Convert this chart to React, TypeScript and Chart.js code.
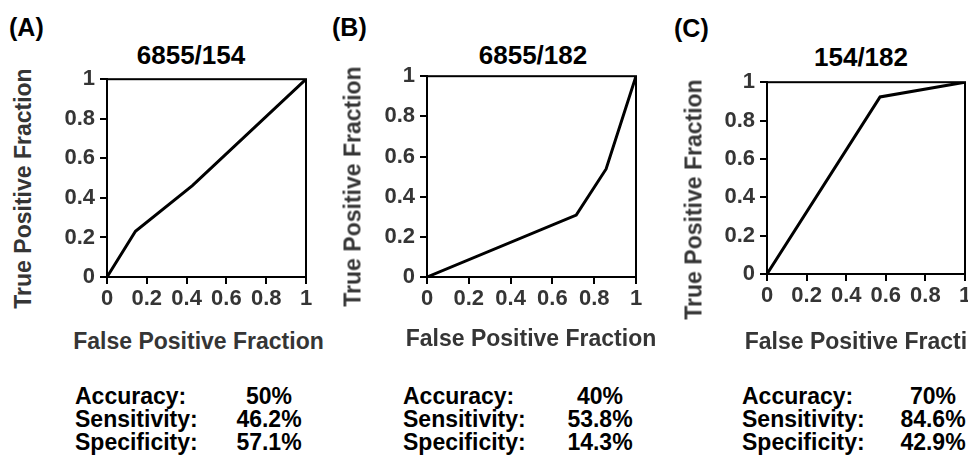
import React, { useEffect, useRef } from "react";
import { Chart, registerables } from "chart.js";

Chart.register(...registerables);

// ---------- data ----------
const panelLetters = ["(A)", "(B)", "(C)"];
const panelTitles = ["6855/154", "6855/182", "154/182"];
const xAxisTitle = "False Positive Fraction";
const yAxisTitle = "True Positive Fraction";
const tickValues = [0, 0.2, 0.4, 0.6, 0.8, 1];

const fprA = [0, 0.143, 0.429, 1];
const tprA = [0, 0.231, 0.462, 1];
const fprB = [0, 0.714, 0.857, 1];
const tprB = [0, 0.308, 0.538, 1];
const fprC = [0, 0.571, 1];
const tprC = [0, 0.923, 1];

const statLabels = ["Accuracy:", "Sensitivity:", "Specificity:"];
const statsA = ["50%", "46.2%", "57.1%"];
const statsB = ["40%", "53.8%", "14.3%"];
const statsC = ["70%", "84.6%", "42.9%"];

// ---------- layout / style ----------
const FONT = '"Liberation Sans", Arial, Helvetica, sans-serif';
const AXIS_GRAY = "#353535";
const Y_AXIS_W = 64;
const PAD_T = 14;
const PAD_R = 14;
const X_AXIS_H = 40;

type PanelLayout = {
  plot: { l: number; r: number; t: number; b: number };
  letter: { x: number; cy: number };
  title: { cx: number; cy: number };
  xTitle: { cx: number; cy: number };
  yTitle: { cx: number; cy: number };
  statsLeft: number;
  statsValCx: number;
};

const layouts: PanelLayout[] = [
  {
    plot: { l: 107, r: 306, t: 75, b: 277 },
    letter: { x: 9, cy: 27 },
    title: { cx: 191, cy: 55 },
    xTitle: { cx: 198.5, cy: 341 },
    yTitle: { cx: 23, cy: 188 },
    statsLeft: 75,
    statsValCx: 269,
  },
  {
    plot: { l: 427, r: 636, t: 72, b: 277 },
    letter: { x: 332, cy: 27 },
    title: { cx: 533, cy: 55 },
    xTitle: { cx: 531, cy: 338 },
    yTitle: { cx: 353, cy: 186 },
    statsLeft: 403,
    statsValCx: 600,
  },
  {
    plot: { l: 767, r: 965, t: 78, b: 274 },
    letter: { x: 674, cy: 28 },
    title: { cx: 861, cy: 57 },
    xTitle: { cx: 870, cy: 341 },
    yTitle: { cx: 694, cy: 199 },
    statsLeft: 742,
    statsValCx: 933,
  },
];

const statRowsCy = [396, 419.5, 442];

const boxPlugin = {
  id: "plotBox",
  beforeDatasetsDraw(chart: any) {
    const { ctx, chartArea } = chart;
    ctx.save();
    ctx.strokeStyle = "#000";
    ctx.lineWidth = 2;
    ctx.strokeRect(
      chartArea.left,
      chartArea.top,
      chartArea.right - chartArea.left,
      chartArea.bottom - chartArea.top
    );
    ctx.restore();
  },
};

function RocChart({ fpr, tpr, lay }: { fpr: number[]; tpr: number[]; lay: PanelLayout }) {
  const ref = useRef<HTMLCanvasElement | null>(null);
  const width = Y_AXIS_W + (lay.plot.r - lay.plot.l) + PAD_R;
  const height = PAD_T + (lay.plot.b - lay.plot.t) + X_AXIS_H;
  const left = lay.plot.l - Y_AXIS_W;
  const top = lay.plot.t - PAD_T;

  useEffect(() => {
    if (!ref.current) return;
    const pts = fpr.map((x, i) => ({ x, y: tpr[i] }));
    const tickFont = { family: FONT, size: 22, weight: "bold" as const };
    const commonScale = {
      type: "linear" as const,
      min: 0,
      max: 1,
      afterBuildTicks: (s: any) => {
        s.ticks = tickValues.map((v) => ({ value: v }));
      },
      grid: {
        drawOnChartArea: false,
        drawTicks: true,
        tickLength: 7,
        color: "#000",
        lineWidth: 2,
      },
      border: { display: true, color: "#000", width: 2 },
    };
    const chart = new Chart(ref.current, {
      type: "scatter",
      data: {
        datasets: [
          {
            data: pts,
            showLine: true,
            borderColor: "#000",
            backgroundColor: "#000",
            borderWidth: 3,
            pointRadius: 0,
            tension: 0,
          },
        ],
      },
      options: {
        responsive: false,
        animation: false,
        devicePixelRatio: 1,
        layout: { padding: { top: PAD_T, right: PAD_R, left: 0, bottom: 0 } },
        plugins: {
          legend: { display: false },
          title: { display: false },
          tooltip: { enabled: false },
        },
        scales: {
          x: {
            ...commonScale,
            position: "bottom",
            ticks: {
              font: tickFont,
              color: AXIS_GRAY,
              padding: 2,
              maxRotation: 0,
              autoSkip: false,
              callback: (v: any) => String(Math.round(Number(v) * 10) / 10),
            },
            afterFit: (s: any) => {
              s.height = X_AXIS_H;
            },
          },
          y: {
            ...commonScale,
            position: "left",
            ticks: {
              font: tickFont,
              color: AXIS_GRAY,
              padding: 5,
              autoSkip: false,
              callback: (v: any) => String(Math.round(Number(v) * 10) / 10),
            },
            afterFit: (s: any) => {
              s.width = Y_AXIS_W;
            },
          },
        },
      },
      plugins: [boxPlugin],
    });
    return () => chart.destroy();
  }, []);

  return (
    <canvas
      ref={ref}
      width={width}
      height={height}
      style={{ position: "absolute", left, top, width, height }}
    />
  );
}

function CText({
  text,
  cx,
  cy,
  size,
  color,
  rotate,
}: {
  text: string;
  cx: number;
  cy: number;
  size: number;
  color: string;
  rotate?: boolean;
}) {
  const w = 400;
  return (
    <div
      style={{
        position: "absolute",
        left: cx - w / 2,
        top: cy - size / 2,
        width: w,
        height: size,
        lineHeight: `${size}px`,
        fontSize: size,
        fontFamily: FONT,
        fontWeight: "bold",
        color,
        textAlign: "center",
        whiteSpace: "nowrap",
        transform: rotate ? "rotate(-90deg)" : undefined,
        transformOrigin: "center center",
      }}
    >
      {text}
    </div>
  );
}

function LText({ text, x, cy, size, color }: { text: string; x: number; cy: number; size: number; color: string }) {
  return (
    <div
      style={{
        position: "absolute",
        left: x,
        top: cy - size / 2,
        height: size,
        lineHeight: `${size}px`,
        fontSize: size,
        fontFamily: FONT,
        fontWeight: "bold",
        color,
        whiteSpace: "nowrap",
      }}
    >
      {text}
    </div>
  );
}

export default function App() {
  const series = [
    { fpr: fprA, tpr: tprA, stats: statsA },
    { fpr: fprB, tpr: tprB, stats: statsB },
    { fpr: fprC, tpr: tprC, stats: statsC },
  ];
  return (
    <div
      style={{
        position: "absolute",
        left: 0,
        top: 0,
        width: 968,
        height: 464,
        overflow: "hidden",
        background: "#fff",
      }}
    >
      {series.map((s, i) => {
        const lay = layouts[i];
        return (
          <React.Fragment key={i}>
            <LText text={panelLetters[i]} x={lay.letter.x} cy={lay.letter.cy} size={25} color="#000" />
            <CText text={panelTitles[i]} cx={lay.title.cx} cy={lay.title.cy} size={26} color="#000" />
            <RocChart fpr={s.fpr} tpr={s.tpr} lay={lay} />
            <CText text={yAxisTitle} cx={lay.yTitle.cx} cy={lay.yTitle.cy} size={23} color={AXIS_GRAY} rotate />
            <CText text={xAxisTitle} cx={lay.xTitle.cx} cy={lay.xTitle.cy} size={23} color={AXIS_GRAY} />
            {statLabels.map((lab, r) => (
              <LText key={"l" + r} text={lab} x={lay.statsLeft} cy={statRowsCy[r]} size={23} color="#000" />
            ))}
            {s.stats.map((v, r) => (
              <CText key={"v" + r} text={v} cx={lay.statsValCx} cy={statRowsCy[r]} size={23} color="#000" />
            ))}
          </React.Fragment>
        );
      })}
    </div>
  );
}
